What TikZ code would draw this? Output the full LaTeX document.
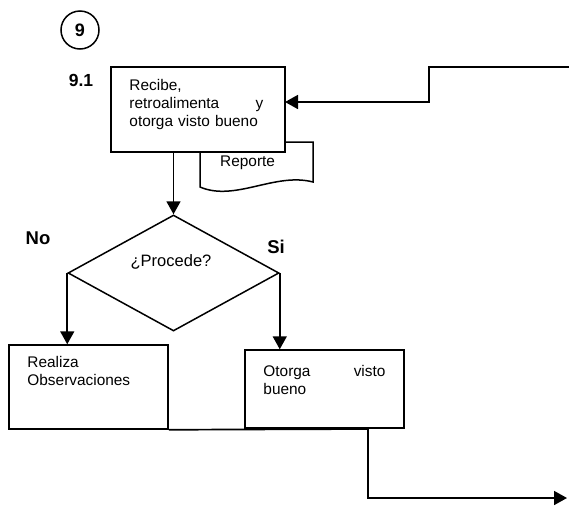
\documentclass[tikz,border=0pt]{standalone}
\usepackage{fontspec}
\setmainfont{Liberation Sans}
\usetikzlibrary{positioning,shapes.geometric,arrows.meta}

\tikzset{
  caja/.style={draw, line width=1.5pt, fill=white, inner sep=0pt},
  texto/.style={inner sep=0pt, align=left, font=\fontsize{15.4}{17.8}\selectfont},
  etiqueta/.style={inner sep=0pt, font=\fontsize{18.5}{20}\selectfont\bfseries},
  flecha/.style={line width=1.7pt, -{Triangle[length=13pt,width=14pt]}}
}

\begin{document}
\begin{tikzpicture}[x=1pt, y=-1pt]
\useasboundingbox (0,0) rectangle (569,512);

% paso 9
\node[circle, draw, line width=1.5pt, minimum size=38pt, inner sep=0pt,
      font=\fontsize{18}{20}\selectfont\bfseries] (paso) at (80,30) {9};
\node[etiqueta, font=\fontsize{17.5}{20}\selectfont\bfseries] (num) at (81,80) {9.1};

% reporte (detras de la caja)
\draw[caja] (200,142) -- (313,142) -- (313,182)
  .. controls (275,172) and (235,202) .. (200,187) -- cycle;
\node[texto, anchor=base west] (reporte) at (220,166) {Reporte};

\node[caja, minimum width=174pt, minimum height=85pt] (recibe) at (198,109.5) {};
\node[texto, text width=134pt, below right=13pt and 19pt of recibe.north west] (txtrecibe)
  {Recibe,\\ retroalimenta\hfill y\\ otorga visto bueno};

% decision
\node[draw, diamond, line width=1.5pt, minimum width=211pt, minimum height=116pt,
      inner sep=0pt] (decide) at (173.5,273) {};
\node[texto, font=\fontsize{16.5}{18}\selectfont] (pregunta) at (171,262) {¿Procede?};
\node[etiqueta] (no) at (38,238) {No};
\node[etiqueta] (si) at (276,247) {Si};

\node[caja, minimum width=159pt, minimum height=84pt] (realiza) at (88.5,387) {};
\node[texto, below right=12pt and 19pt of realiza.north west] (txtrealiza)
  {Realiza\\ Observaciones};

\node[caja, minimum width=159pt, minimum height=78pt] (otorga) at (324.5,389) {};
\node[texto, text width=122pt, below right=16pt and 19pt of otorga.north west] (txtotorga)
  {Otorga\hfill visto\\ bueno};

% conectores
\coordinate (entrada) at (569,67);
\coordinate (codo) at (429,67);
\coordinate (llegada) at (285,102);
\coordinate (quiebre) at (368,429);
\coordinate (salida) at (567,498);

\draw[flecha] (entrada) -- (codo) |- (llegada);
\draw[flecha] (decide.north |- recibe.south) -- (decide.north);
\draw[flecha] (decide.west) -- (decide.west |- realiza.north);
\draw[flecha] (decide.east) -- (decide.east |- otorga.north);
\draw[flecha] (realiza.south east) -- (quiebre) |- (salida);
\end{tikzpicture}
\end{document}
